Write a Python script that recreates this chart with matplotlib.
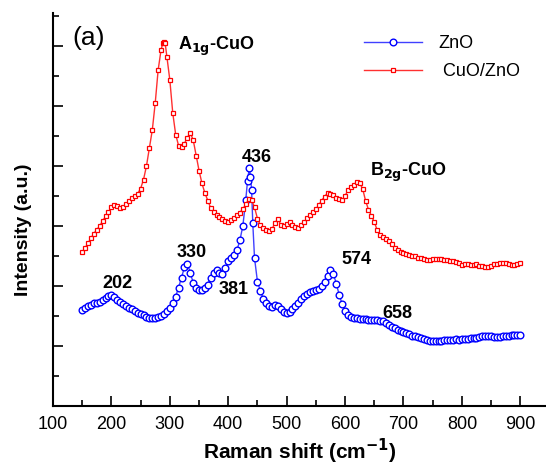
import matplotlib
matplotlib.use("Agg")
import matplotlib.pyplot as plt
from matplotlib.ticker import MultipleLocator, NullFormatter

plt.rcParams['font.family'] = ['Liberation Sans', 'DejaVu Sans']

zno_x = [150,155,160,165,170,175,180,185,190,195,200,205,210,215,220,225,230,235,240,245,
         250,255,260,265,270,275,280,285,290,295,300,305,310,315,320,325,330,335,340,345,
         350,355,360,365,370,375,380,385,390,395,400,405,410,415,420,425,430,433,436,438,
         440,442,445,450,455,460,465,470,475,480,485,490,495,500,505,510,515,520,525,530,
         535,540,545,550,555,560,565,570,575,580,585,590,595,600,605,610,615,620,625,630,
         635,640,645,650,655,660,665,670,675,680,685,690,695,700,705,710,715,720,725,730,
         735,740,745,750,755,760,765,770,775,780,785,790,795,800,805,810,815,820,825,830,
         835,840,845,850,855,860,865,870,875,880,885,890,895,900]
zno_y = [3.20,3.28,3.35,3.38,3.42,3.45,3.47,3.53,3.60,3.66,3.70,3.63,3.53,3.46,3.40,3.34,3.28,3.24,3.17,3.11,
         3.07,3.02,2.98,2.94,2.92,2.94,2.96,2.99,3.07,3.17,3.28,3.45,3.65,3.95,4.28,4.62,4.75,4.45,4.10,3.95,
         3.88,3.87,3.92,4.05,4.28,4.45,4.53,4.45,4.40,4.60,4.83,4.95,5.05,5.20,5.53,6.00,6.87,7.50,7.93,7.65,
         7.20,6.10,4.93,4.15,3.83,3.58,3.43,3.34,3.30,3.38,3.32,3.22,3.15,3.10,3.15,3.24,3.33,3.45,3.58,3.67,
         3.75,3.80,3.84,3.88,3.91,4.00,4.15,4.35,4.53,4.40,4.08,3.70,3.40,3.18,3.05,2.98,2.95,2.92,2.90,2.90,
         2.89,2.88,2.88,2.87,2.86,2.85,2.82,2.77,2.71,2.65,2.60,2.55,2.51,2.46,2.42,2.39,2.35,2.32,2.29,2.26,
         2.23,2.20,2.18,2.17,2.17,2.18,2.18,2.19,2.20,2.20,2.21,2.22,2.21,2.23,2.24,2.25,2.27,2.28,2.28,2.30,
         2.33,2.35,2.34,2.32,2.30,2.30,2.31,2.33,2.34,2.35,2.36,2.36,2.38,2.37]

cuo_x = [150,155,160,165,170,175,180,185,190,195,200,205,210,215,220,225,230,235,240,245,
         250,255,260,265,270,275,280,285,288,290,292,295,300,305,310,315,320,325,330,335,
         340,345,350,355,360,365,370,375,380,385,390,395,400,405,410,415,420,425,430,435,
         440,445,450,455,460,465,470,475,480,485,490,495,500,505,510,515,520,525,530,535,
         540,545,550,555,560,565,570,575,580,585,590,595,600,605,610,615,620,625,630,635,
         640,645,650,655,660,665,670,675,680,685,690,695,700,705,710,715,720,725,730,735,
         740,745,750,755,760,765,770,775,780,785,790,795,800,805,810,815,820,825,830,835,
         840,845,850,855,860,865,870,875,880,885,890,895,900]
cuo_y = [5.13,5.27,5.43,5.60,5.75,5.88,6.00,6.17,6.32,6.47,6.62,6.70,6.66,6.61,6.62,6.72,6.83,6.92,7.00,7.08,
         7.25,7.55,8.00,8.60,9.20,10.10,11.20,11.87,12.10,12.12,12.10,11.63,10.87,9.77,9.05,8.68,8.65,8.75,8.95,9.10,
         8.87,8.35,7.85,7.42,7.10,6.85,6.60,6.48,6.38,6.29,6.22,6.16,6.14,6.20,6.27,6.37,6.45,6.57,6.72,6.90,
         6.87,6.62,6.25,6.02,5.93,5.88,5.82,5.90,6.10,6.25,6.03,6.00,6.08,6.13,6.05,5.97,5.93,6.02,6.12,6.27,
         6.38,6.47,6.56,6.70,6.85,6.98,7.10,7.08,7.02,6.95,6.90,6.87,7.00,7.20,7.30,7.38,7.47,7.42,7.25,6.85,
         6.55,6.35,6.13,5.87,5.70,5.65,5.58,5.50,5.40,5.28,5.20,5.15,5.10,5.06,5.03,5.01,4.99,4.95,4.92,4.89,
         4.87,4.88,4.89,4.90,4.91,4.90,4.88,4.86,4.85,4.83,4.81,4.76,4.70,4.74,4.75,4.71,4.70,4.73,4.68,4.66,
         4.64,4.63,4.68,4.73,4.73,4.77,4.76,4.77,4.74,4.71,4.70,4.75,4.77]

x_ticks = [100, 200, 300, 400, 500, 600, 700, 800, 900]

fig = plt.figure(figsize=(5.46, 4.68), dpi=100)
ax = fig.add_axes([53/546, 62/468, 493/546, 393/468])

ax.plot(zno_x, zno_y, color='#4040ff', lw=1.0, marker='o', ms=4.8, mfc='white',
        mec='#0000ff', mew=1.0, label='ZnO')
ax.plot(cuo_x, cuo_y, color='#ff3030', lw=1.0, marker='s', ms=3.0, mfc='white',
        mec='#ff0000', mew=0.9, label=' CuO/ZnO')

ax.set_xlim(100, 944)
ax.set_ylim(0, 13.1)
ax.set_xticks(x_ticks)
ax.xaxis.set_minor_locator(MultipleLocator(50))
ax.yaxis.set_major_locator(MultipleLocator(2))
ax.yaxis.set_minor_locator(MultipleLocator(1))
ax.yaxis.set_major_formatter(NullFormatter())
ax.tick_params(axis='both', which='major', direction='in', length=7, width=1.2, labelsize=13, pad=7)
ax.tick_params(axis='both', which='minor', direction='in', length=4, width=1.2)
ax.tick_params(axis='y', which='both', labelleft=False)
for s in ['top', 'right']:
    ax.spines[s].set_visible(False)
for s in ['left', 'bottom']:
    ax.spines[s].set_linewidth(1.5)

ax.set_xlabel('Raman shift (cm$^{\\mathbf{-1}}$)', fontsize=15, fontweight='bold', labelpad=3)
ax.set_ylabel('Intensity (a.u.)', fontsize=14, fontweight='bold')
ax.yaxis.set_label_coords(-0.043, 0.448)

ax.text(161, 12.25, '(a)', fontsize=19, ha='center', va='center')
ax.text(314, 12.0, 'A$_{\\mathbf{1g}}$-CuO', fontsize=13, fontweight='bold', ha='left', va='center')
ax.text(643, 7.8, 'B$_{\\mathbf{2g}}$-CuO', fontsize=13, fontweight='bold', ha='left', va='center')
for lx, ly, t in [(449, 8.27, '436'), (338, 5.13, '330'), (410, 3.87, '381'),
                  (210, 4.07, '202'), (620, 4.87, '574'), (689, 3.1, '658')]:
    ax.text(lx, ly, t, fontsize=13, fontweight='bold', ha='center', va='center')

leg = ax.legend(loc='upper right', bbox_to_anchor=(0.98, 0.985), frameon=False, fontsize=13,
                handlelength=3.2, labelspacing=0.6, handletextpad=0.9)

fig.savefig('out.png', dpi=100)
